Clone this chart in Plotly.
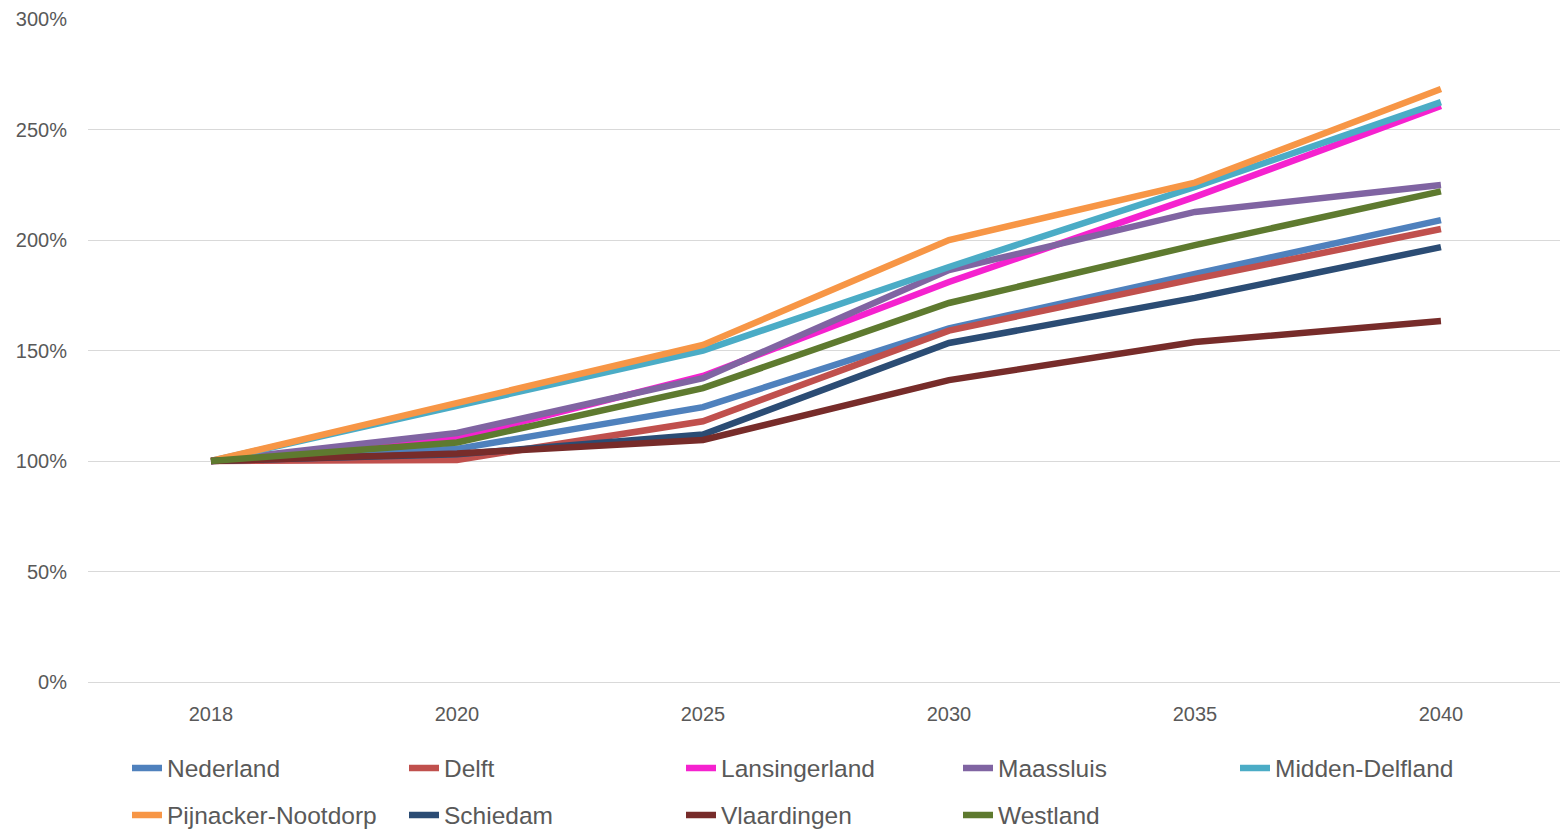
import plotly.graph_objects as go

years = ["2018", "2020", "2025", "2030", "2035", "2040"]

nederland = [100, 105.5, 124.4, 160.0, 184.6, 209.0]
delft = [100, 100.5, 118.0, 159.0, 182.4, 205.0]
lansingerland = [100, 110.4, 138.5, 181.0, 219.5, 260.6]
maassluis = [100, 112.7, 137.5, 186.4, 212.7, 224.9]
midden_delfland = [100, 125.0, 150.0, 187.8, 224.0, 262.4]
pijnacker = [100, 126.0, 152.5, 200.0, 226.0, 268.3]
schiedam = [100, 103.0, 112.0, 153.4, 173.8, 196.8]
vlaardingen = [100, 103.4, 109.5, 136.6, 153.8, 163.3]
westland = [100, 108.4, 133.0, 171.5, 197.7, 222.0]

series = [
    ("Nederland", nederland, "#4F81BD", "legend"),
    ("Delft", delft, "#C0504D", "legend"),
    ("Lansingerland", lansingerland, "#F522CF", "legend"),
    ("Maassluis", maassluis, "#8064A2", "legend"),
    ("Midden-Delfland", midden_delfland, "#4BACC6", "legend"),
    ("Pijnacker-Nootdorp", pijnacker, "#F79646", "legend2"),
    ("Schiedam", schiedam, "#2B4C74", "legend2"),
    ("Vlaardingen", vlaardingen, "#772C2A", "legend2"),
    ("Westland", westland, "#5E7A2F", "legend2"),
]

fig = go.Figure()
for name, vals, color, lg in series:
    fig.add_trace(go.Scatter(
        x=years, y=[v / 100 for v in vals], name=name, mode="lines",
        line=dict(color=color, width=6.5), legend=lg,
    ))

font = "Liberation Sans"
legend_common = dict(
    orientation="h", xref="container", yref="container",
    xanchor="left", yanchor="middle",
    font=dict(family=font, size=24.5, color="#595959"),
    entrywidth=232, entrywidthmode="pixels",
    bgcolor="rgba(0,0,0,0)", itemwidth=30,
)

fig.update_layout(
    width=1560, height=829,
    margin=dict(l=88, r=0, t=19, b=147),
    plot_bgcolor="white", paper_bgcolor="white",
    font=dict(family=font, size=20, color="#595959"),
    xaxis=dict(
        type="category", showgrid=False, showline=True,
        linecolor="#D9D9D9", linewidth=1, ticks="",
        tickfont=dict(size=20, color="#595959"),
        ticklabelstandoff=14,
        range=[-0.5, 5.484],
    ),
    yaxis=dict(
        range=[0, 3.0], dtick=0.5, tickformat=".0%",
        showgrid=True, gridcolor="#D9D9D9", gridwidth=1,
        zeroline=False, showline=False, ticks="",
        tickfont=dict(size=20, color="#595959"),
        ticklabelstandoff=20,
    ),
    legend=dict(x=127 / 1560, y=1 - 768 / 829, **legend_common),
    legend2=dict(x=127 / 1560, y=1 - 815 / 829, **legend_common),
    showlegend=True,
)

fig.write_html(
    "out.html",
    config={"displayModeBar": False},
    post_script="document.body.style.margin='0';",
)
